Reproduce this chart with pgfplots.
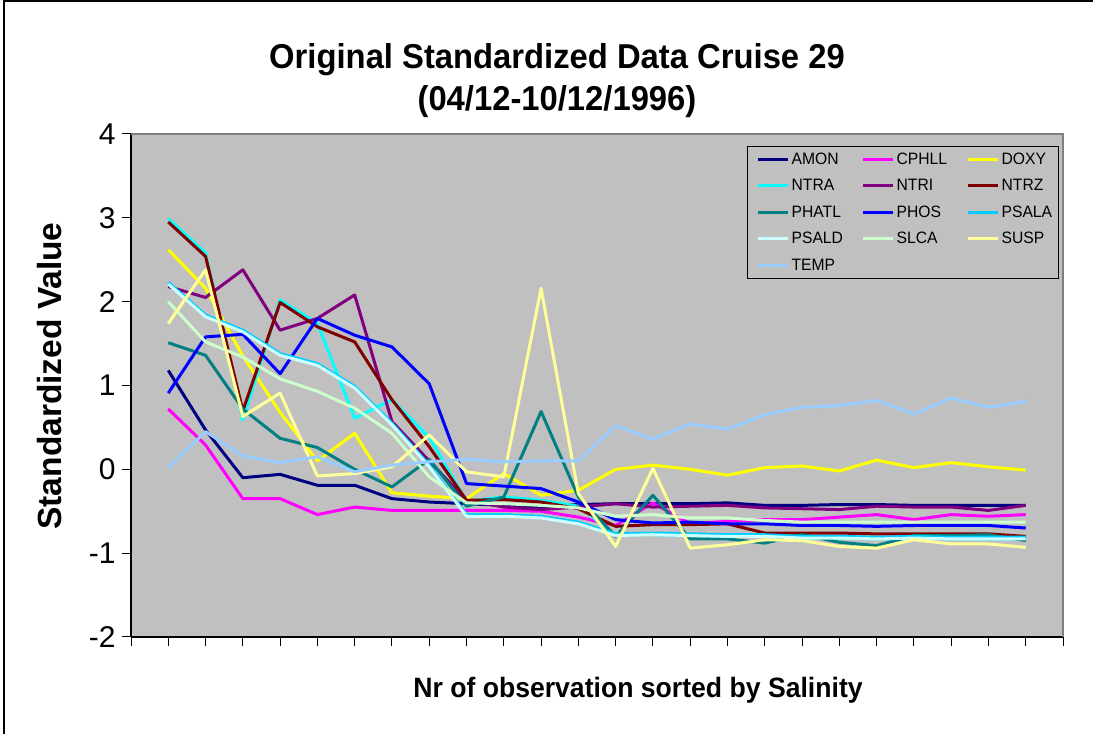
\documentclass[border=0pt]{standalone}
\usepackage{fontspec}
\setmainfont{Liberation Sans}
\usepackage{graphicx}
\usepackage{pgfplots}
\pgfplotsset{compat=1.18}
\usepackage{pgfplotstable}

\definecolor{plotgray}{HTML}{C0C0C0}
\definecolor{frame}{HTML}{808080}
\definecolor{camon}{HTML}{000080}
\definecolor{ccphll}{HTML}{FF00FF}
\definecolor{cdoxy}{HTML}{FFFF00}
\definecolor{cntra}{HTML}{00FFFF}
\definecolor{cntri}{HTML}{800080}
\definecolor{cntrz}{HTML}{800000}
\definecolor{cphatl}{HTML}{008080}
\definecolor{cphos}{HTML}{0000FF}
\definecolor{cpsala}{HTML}{00CCFF}
\definecolor{cpsald}{HTML}{CCFFFF}
\definecolor{cslca}{HTML}{CCFFCC}
\definecolor{csusp}{HTML}{FFFF99}
\definecolor{ctemp}{HTML}{99CCFF}

\newcommand{\cz}[1]{\scalebox{0.95}[1]{#1}}
\newcommand{\legent}[2]{\makebox[#1pt][l]{\hspace{2pt}\cz{#2}}}

% standardized values, observations 1..24 sorted by salinity
\pgfplotstableread{
n AMON CPHLL DOXY NTRA NTRI NTRZ
1 1.18 0.72 2.62 2.99 2.18 2.95
2 0.47 0.29 2.16 2.58 2.05 2.54
3 -0.10 -0.35 1.35 0.59 2.38 0.70
4 -0.06 -0.35 0.68 2.02 1.66 1.99
5 -0.19 -0.54 0.10 1.74 1.80 1.70
6 -0.19 -0.45 0.43 0.61 2.08 1.52
7 -0.35 -0.49 -0.28 0.83 0.57 0.83
8 -0.39 -0.49 -0.32 0.38 0.10 0.27
9 -0.41 -0.49 -0.35 -0.38 -0.37 -0.37
10 -0.43 -0.49 -0.05 -0.33 -0.45 -0.36
11 -0.45 -0.50 -0.31 -0.37 -0.48 -0.39
12 -0.42 -0.57 -0.25 -0.44 -0.45 -0.47
13 -0.41 -0.67 0.00 -0.78 -0.41 -0.68
14 -0.41 -0.40 0.05 -0.78 -0.45 -0.66
15 -0.41 -0.65 0.00 -0.79 -0.44 -0.66
16 -0.40 -0.62 -0.07 -0.80 -0.43 -0.65
17 -0.43 -0.60 0.02 -0.80 -0.46 -0.76
18 -0.43 -0.60 0.04 -0.82 -0.47 -0.76
19 -0.42 -0.57 -0.02 -0.82 -0.48 -0.76
20 -0.42 -0.54 0.11 -0.83 -0.44 -0.77
21 -0.43 -0.60 0.02 -0.82 -0.45 -0.77
22 -0.43 -0.54 0.08 -0.83 -0.45 -0.77
23 -0.43 -0.56 0.03 -0.83 -0.49 -0.77
24 -0.43 -0.54 -0.01 -0.83 -0.43 -0.80
}\tableA

\pgfplotstableread{
n PHATL PHOS PSALA PSALD SLCA SUSP TEMP
1 1.51 0.91 2.23 2.21 2.00 1.74 0.02
2 1.36 1.58 1.84 1.82 1.52 2.38 0.45
3 0.72 1.61 1.66 1.64 1.34 0.63 0.16
4 0.37 1.14 1.38 1.36 1.08 0.91 0.08
5 0.26 1.80 1.26 1.24 0.93 -0.08 0.15
6 0.00 1.60 0.99 0.97 0.73 -0.05 -0.03
7 -0.21 1.46 0.55 0.53 0.43 0.03 0.05
8 0.12 1.02 0.05 0.03 -0.09 0.41 0.09
9 -0.44 -0.17 -0.54 -0.56 -0.40 -0.03 0.12
10 -0.33 -0.20 -0.54 -0.56 -0.41 -0.09 0.09
11 0.69 -0.23 -0.56 -0.58 -0.43 2.16 0.10
12 -0.33 -0.39 -0.63 -0.65 -0.46 -0.29 0.10
13 -0.80 -0.60 -0.77 -0.79 -0.56 -0.92 0.52
14 -0.31 -0.64 -0.76 -0.78 -0.54 0.01 0.36
15 -0.83 -0.63 -0.77 -0.79 -0.58 -0.94 0.54
16 -0.83 -0.65 -0.78 -0.80 -0.58 -0.90 0.48
17 -0.88 -0.65 -0.78 -0.80 -0.61 -0.84 0.65
18 -0.78 -0.67 -0.80 -0.82 -0.63 -0.85 0.74
19 -0.87 -0.67 -0.80 -0.82 -0.63 -0.92 0.76
20 -0.91 -0.68 -0.81 -0.83 -0.63 -0.94 0.82
21 -0.79 -0.67 -0.80 -0.82 -0.63 -0.84 0.66
22 -0.79 -0.67 -0.81 -0.83 -0.63 -0.89 0.85
23 -0.78 -0.67 -0.81 -0.83 -0.63 -0.89 0.74
24 -0.85 -0.70 -0.81 -0.83 -0.63 -0.93 0.81
}\tableB

\begin{document}
\begin{tikzpicture}[x=1pt,y=1pt]
\useasboundingbox (0,0) rectangle (1093,734);
\fill[white] (0,0) rectangle (1093,734);
\draw[line width=2.5pt] (4,0) -- (4,732.75) -- (1093,732.75);

\node[font=\fontsize{34.5}{34.5}\selectfont\bfseries] at (557,674) {\cz{Original Standardized Data Cruise 29}};
\node[font=\fontsize{34.5}{34.5}\selectfont\bfseries] at (557,632) {\cz{(04/12-10/12/1996)}};
\node[font=\fontsize{28}{28}\selectfont\bfseries] at (638,44) {\cz{Nr of observation sorted by Salinity}};
\node[font=\fontsize{33.5}{33.5}\selectfont\bfseries,rotate=90] at (50,358) {Standardized Value};

\begin{axis}[
  at={(131pt,97pt)}, anchor=south west,
  scale only axis, width=932pt, height=503pt,
  xmin=0, xmax=25, ymin=-2, ymax=4,
  xtick={0,...,25}, xticklabels={},
  ytick={-2,...,4}, yticklabels={-2,-1,0,1,2,3,4},
  yticklabel style={font=\fontsize{30}{30}\selectfont, anchor=east, xshift=-3pt},
  tick align=outside, major tick length=9pt,
  xtick pos=left, ytick pos=left,
  tick style={black, line width=1pt},
  axis x line*=bottom, axis y line*=left,
  axis line style={-, black, line width=1.2pt},
  axis background/.style={fill=plotgray},
  clip=false,
  every axis plot/.append style={line width=3pt, line join=round},
  legend columns=3,
  legend cell align=left,
  legend image code/.code={\draw[#1, line width=3pt] (0pt,0pt) -- (30pt,0pt);},
  legend style={at={(1,1)}, anchor=north east, xshift=-4pt, yshift=-12pt,
    fill=plotgray, draw=black, line width=0.8pt,
    inner xsep=9pt, inner ysep=0pt,
    font=\fontsize{16.5}{16.5}\selectfont,
    nodes={inner sep=0pt, minimum height=26.4pt},
    /tikz/column sep=0pt},
]
\draw[frame, line width=1.2pt] (rel axis cs:0,1) -- (rel axis cs:1,1) -- (rel axis cs:1,0);
\addplot[camon] table[x=n,y=AMON] {\tableA};
\addlegendentry{\legent{72}{AMON}}
\addplot[ccphll] table[x=n,y=CPHLL] {\tableA};
\addlegendentry{\legent{72}{CPHLL}}
\addplot[cdoxy] table[x=n,y=DOXY] {\tableA};
\addlegendentry{\legent{50}{DOXY}}
\addplot[cntra] table[x=n,y=NTRA] {\tableA};
\addlegendentry{\legent{72}{NTRA}}
\addplot[cntri] table[x=n,y=NTRI] {\tableA};
\addlegendentry{\legent{72}{NTRI}}
\addplot[cntrz] table[x=n,y=NTRZ] {\tableA};
\addlegendentry{\legent{50}{NTRZ}}
\addplot[cphatl] table[x=n,y=PHATL] {\tableB};
\addlegendentry{\legent{72}{PHATL}}
\addplot[cphos] table[x=n,y=PHOS] {\tableB};
\addlegendentry{\legent{72}{PHOS}}
\addplot[cpsala] table[x=n,y=PSALA] {\tableB};
\addlegendentry{\legent{50}{PSALA}}
\addplot[cpsald] table[x=n,y=PSALD] {\tableB};
\addlegendentry{\legent{72}{PSALD}}
\addplot[cslca] table[x=n,y=SLCA] {\tableB};
\addlegendentry{\legent{72}{SLCA}}
\addplot[csusp] table[x=n,y=SUSP] {\tableB};
\addlegendentry{\legent{50}{SUSP}}
\addplot[ctemp] table[x=n,y=TEMP] {\tableB};
\addlegendentry{\legent{72}{TEMP}}
\end{axis}
\end{tikzpicture}
\end{document}
